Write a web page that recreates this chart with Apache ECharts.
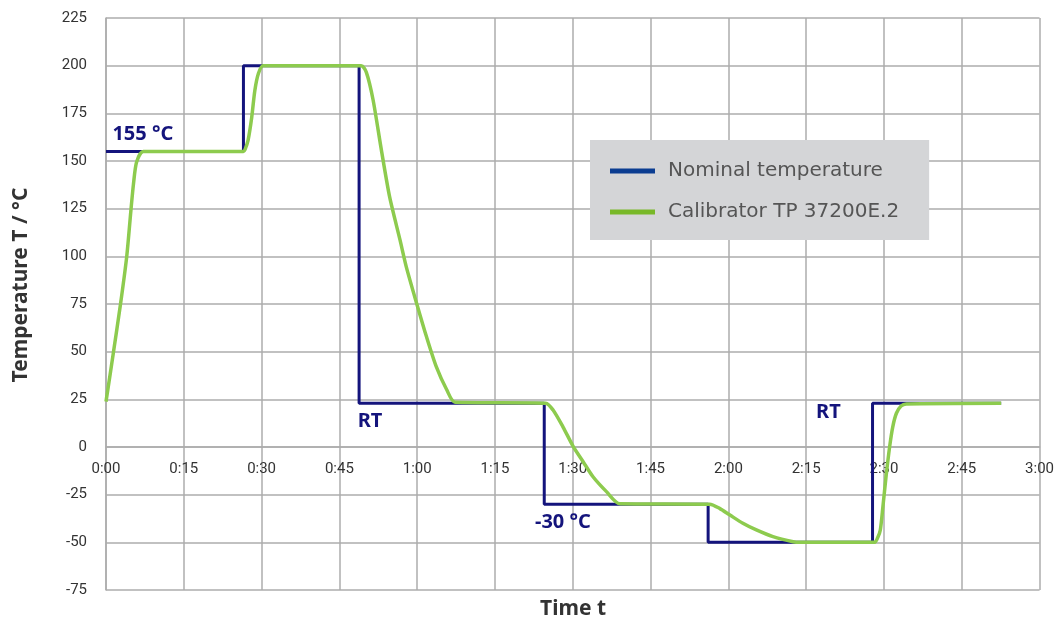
<!DOCTYPE html>
<html>
<head>
<meta charset="utf-8">
<script src="https://cdn.jsdelivr.net/npm/echarts@6/dist/echarts.min.js"></script>
<style>
  html, body { margin: 0; padding: 0; background: #fff; }
  #chart { width: 1057px; height: 624px; }
</style>
</head>
<body>
<div id="chart"></div>
<script>
// time in minutes, temperature in °C
const nominalTime = [0, 26.5, 26.5, 48.8, 48.8, 84.5, 84.5, 116.1, 116.1, 147.8, 147.8, 172.6]
const nominalTemp = [155, 155, 200, 200, 23, 23, -30, -30, -50, -50, 23, 23]

const calibTime = [0, 1.4, 2.8, 4.0, 4.8, 5.3, 5.9, 7.2, 26.5, 26.8, 27.4, 28.1, 28.7, 29.4, 30.3, 49.2,
  50.2, 51.5, 53.1, 54.7, 56.7, 57.9, 59.9, 61.8, 63.7, 65.7, 67.3, 84.8, 86.2, 88.1, 90.1, 92.0, 93.9,
  96.5, 99.1, 116.4, 118.3, 120.3, 122.8, 125.4, 128.6, 132.5, 133.7, 148.2, 148.8, 149.3, 149.8, 150.4,
  151.1, 151.7, 152.4, 153.3, 154.3, 172.6]
const calibTemp = [23.8, 49, 75, 100, 124, 138, 149.5, 155, 155, 156, 161, 173, 187, 196, 200, 200,
  196.5, 182, 155.7, 131, 108.5, 94.5, 75.3, 57.8, 42, 30, 23.5, 23, 19.4, 10.6, 0.2, -7.7, -15.6,
  -23.4, -29.8, -30, -32.2, -35.7, -40, -43.5, -47, -49.7, -50, -50, -47.5, -43.5, -31.3, -15.6,
  0.2, 10.6, 17.7, 21.5, 22.6, 23]

const xTickLabels = ['0:00', '0:15', '0:30', '0:45', '1:00', '1:15', '1:30', '1:45', '2:00', '2:15', '2:30', '2:45', '3:00']
const yTicks = [-75, -50, -25, 0, 25, 50, 75, 100, 125, 150, 175, 200, 225]

const annoLabels = ['155 °C', 'RT', '-30 °C', 'RT']
const annoTime = [7.1, 50.9, 88.1, 139.3]
const annoTemp = [164, 13.6, -39.3, 18.4]

const seriesNames = ['Nominal temperature', 'Calibrator TP 37200E.2']

const chart = echarts.init(document.getElementById('chart'))

const gridColor = '#acacac'
const textColor = '#333'
const navy = '#14147c'
const green = '#8dcb4e'

// grid geometry, x labels sit on the 0 °C line
const gridTop = 18
const gridBottom = 34
const plotH = 624 - gridTop - gridBottom
const zeroOffset = -plotH * (0 - yTicks[0]) / (yTicks[yTicks.length - 1] - yTicks[0])

chart.setOption({
  animation: false,
  grid: { left: 106, right: 17, top: gridTop, bottom: gridBottom },
  legend: {
    orient: 'vertical',
    left: 590,
    top: 140,
    padding: [20, 30, 17, 20],
    backgroundColor: '#d4d5d7',
    itemWidth: 45,
    itemHeight: 5,
    itemGap: 19,
    icon: 'rect',
    textStyle: {
      fontFamily: '"DejaVu Sans"',
      fontSize: 20,
      color: '#555',
      lineHeight: 22,
      padding: [0, 0, 0, 8]
    },
    data: [
      { name: seriesNames[0], itemStyle: { color: '#0b3d91' } },
      { name: seriesNames[1], itemStyle: { color: '#78b828' } }
    ]
  },
  xAxis: {
    type: 'value',
    min: 0,
    max: 180,
    interval: 15,
    offset: zeroOffset,
    axisLine: { onZero: false, lineStyle: { color: gridColor, width: 1.5 } },
    axisTick: { show: false },
    axisLabel: {
      margin: 15,
      fontFamily: 'Roboto',
      fontSize: 15,
      color: textColor,
      formatter: v => xTickLabels[Math.round(v / 15)]
    },
    splitLine: { show: true, lineStyle: { color: gridColor, width: 1.5 } }
  },
  yAxis: {
    type: 'value',
    min: yTicks[0],
    max: yTicks[yTicks.length - 1],
    interval: 25,
    axisLine: { show: true, onZero: false, lineStyle: { color: gridColor, width: 1.5 } },
    axisTick: { show: false },
    axisLabel: {
      margin: 19,
      fontFamily: 'Roboto',
      fontSize: 15,
      color: textColor
    },
    splitLine: { show: true, lineStyle: { color: gridColor, width: 1.5 } }
  },
  graphic: [
    {
      type: 'text',
      x: 21,
      y: 285,
      rotation: Math.PI / 2,
      style: {
        text: 'Temperature T / °C',
        font: 'bold 21px "Noto Sans"',
        fill: textColor,
        align: 'center',
        verticalAlign: 'middle'
      }
    },
    {
      type: 'text',
      x: 573,
      y: 609,
      style: {
        text: 'Time t',
        font: 'bold 21px "Noto Sans"',
        fill: textColor,
        align: 'center',
        verticalAlign: 'middle'
      }
    }
  ],
  series: [
    {
      name: seriesNames[0],
      type: 'line',
      showSymbol: false,
      symbol: 'none',
      color: navy,
      lineStyle: { color: navy, width: 3 },
      data: nominalTime.map((t, i) => [t, nominalTemp[i]]),
      markPoint: {
        symbol: 'circle',
        symbolSize: 0,
        label: {
          show: true,
          position: 'inside',
          formatter: p => p.name,
          fontFamily: '"Noto Sans"',
          fontWeight: 'bold',
          fontSize: 20,
          color: navy
        },
        data: annoLabels.map((s, i) => ({ name: s, coord: [annoTime[i], annoTemp[i]] }))
      }
    },
    {
      name: seriesNames[1],
      type: 'line',
      showSymbol: false,
      symbol: 'none',
      smooth: 0.25,
      color: green,
      lineStyle: { color: green, width: 3.5 },
      data: calibTime.map((t, i) => [t, calibTemp[i]])
    }
  ]
})
</script>
</body>
</html>
